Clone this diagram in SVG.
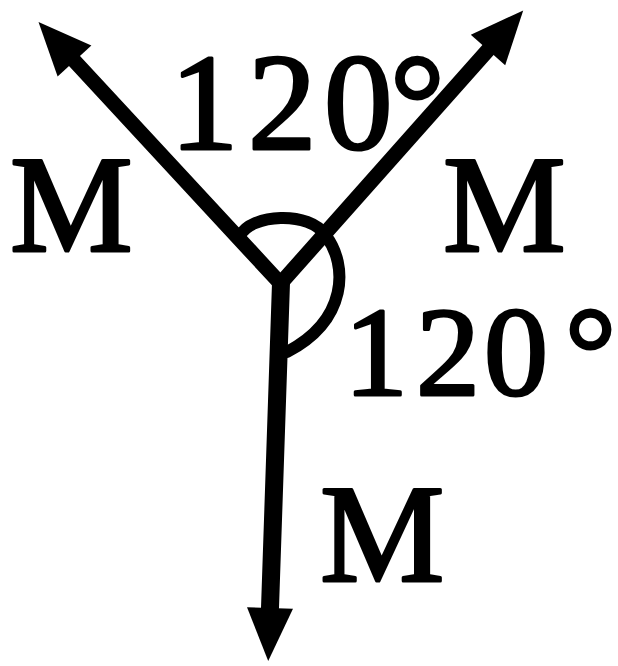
<svg xmlns="http://www.w3.org/2000/svg" width="618" height="666" viewBox="0 0 618 666">
  <style>
    .shaft { fill: none; stroke: #000; stroke-linecap: round; stroke-linejoin: round; }
    .diag { stroke-width: 15; }
    .vert { stroke-width: 18; }
    .arc { fill: none; stroke: #000; stroke-width: 12; stroke-linecap: round; }
    .lbl { font-family: "Liberation Serif", "Times New Roman", serif; fill: #000; stroke: #000; stroke-width: 3; stroke-linejoin: round; }
  </style>
  <defs>
    <marker id="head" markerUnits="userSpaceOnUse" viewBox="0 -24 54 48" refX="0" refY="0" markerWidth="54" markerHeight="48" orient="auto" overflow="visible">
      <path d="M0,-23 L53,0 L0,23 Z" fill="#000"/>
    </marker>
  </defs>
  <rect width="618" height="666" fill="#fff"/>
  <g id="connectors">
    <path id="arrow-left" class="shaft diag" d="M280,283 L74.5,61" marker-end="url(#head)"/>
    <path id="arrow-right" class="shaft diag" d="M281,283 L488,50" marker-end="url(#head)"/>
    <path id="arrow-down" class="shaft vert" d="M281,283 L270,608" marker-end="url(#head)"/>
  </g>
  <g id="angle-arcs">
    <path class="arc" d="M240,236 C250,214 310,210 326,236 C348,265 348,320 287,352"/>
  </g>
  <g id="label-angle-top">
    <text class="lbl" font-size="137" x="170 248 324 390" y="149">120°</text>
  </g>
  <g id="label-angle-right">
    <text class="lbl" font-size="128" x="344 416 484 565" y="395">120°</text>
  </g>
  <g id="label-m-left">
    <text class="lbl" font-size="138" x="10" y="251">M</text>
  </g>
  <g id="label-m-right">
    <text class="lbl" font-size="138" x="443" y="251">M</text>
  </g>
  <g id="label-m-bottom">
    <text class="lbl" font-size="140" x="320" y="581">M</text>
  </g>
</svg>
